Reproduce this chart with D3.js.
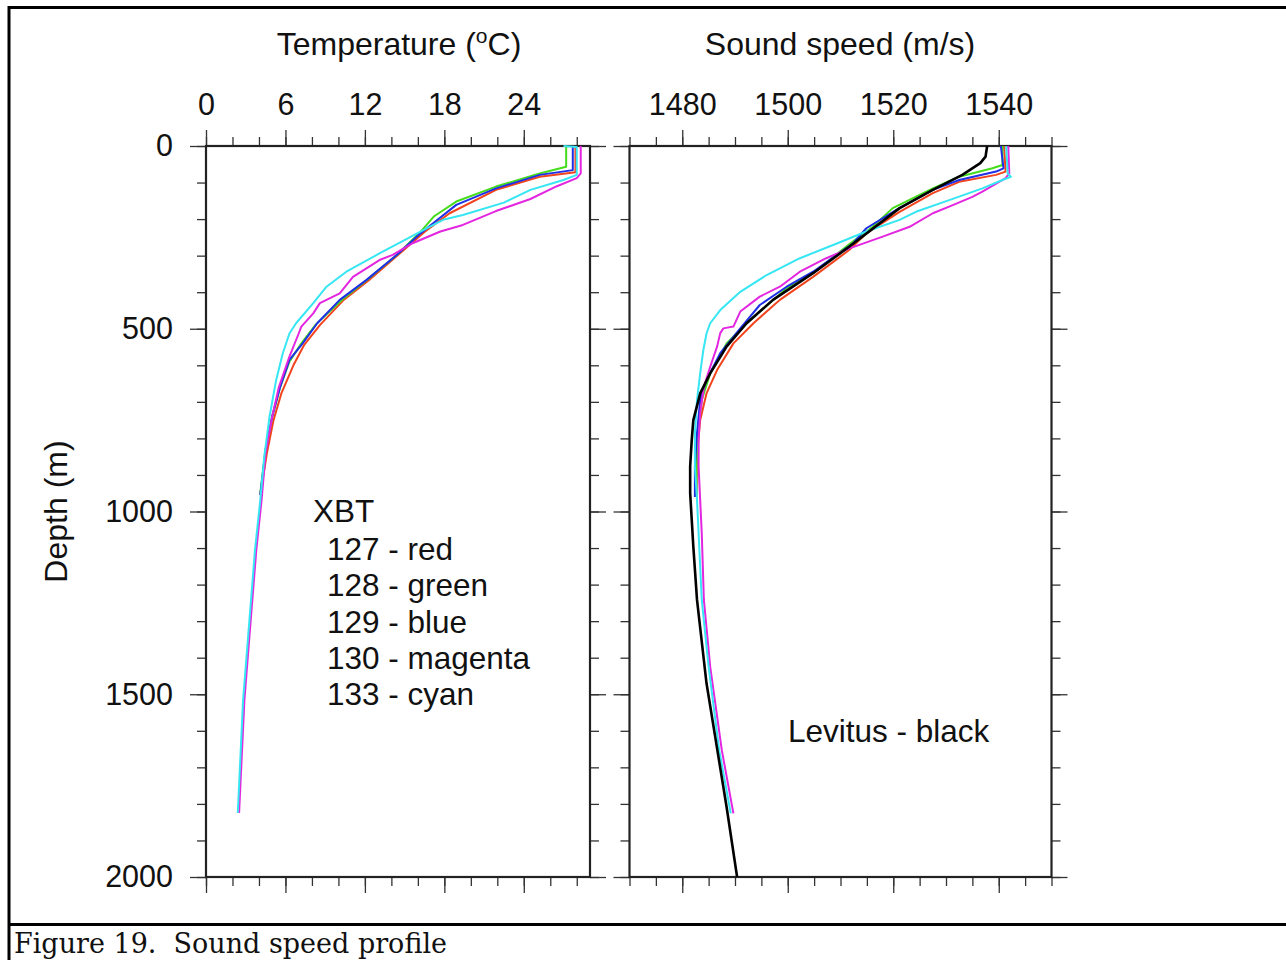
<!DOCTYPE html>
<html>
<head>
<meta charset="utf-8">
<script src="https://cdn.jsdelivr.net/npm/d3@7"></script>
<style>
  html, body { margin: 0; padding: 0; background: #fff; }
  svg { display: block; }
  .sans { font-family: "Liberation Sans", Arial, Helvetica, sans-serif; fill: #111; }
</style>
</head>
<body>
<svg id="chart" width="1286" height="960"></svg>
<script>
// ---------- DATA ----------
// Temperature profiles: [temperature °C, depth m]
const tempRed = [[27.9,0],[27.9,72],[25.2,84],[21.9,120],[18.4,184],[16.5,235],[14.5,298],[12.3,367],[10.4,421],[8.6,490],[7.4,545],[6.6,600],[5.7,676],[5.1,750],[4.6,840],[4.1,955]];
const tempGreen = [[27.2,0],[27.2,57],[25.2,75],[21.9,111],[18.9,152],[17.2,193],[16.2,235],[14.4,298],[12.2,365],[10.3,420],[8.3,488],[7.2,540],[6.3,590],[5.6,660],[5.0,740],[4.5,830],[4.1,950]];
const tempBlue = [[27.7,0],[27.7,66],[25.2,79],[21.9,116],[18.9,161],[17.2,210],[16.2,239],[14.4,298],[12.1,367],[10.1,421],[8.4,485],[7.3,540],[6.3,585],[5.6,659],[5.0,740],[4.5,832],[4.1,955]];
const tempMagenta = [[28.3,0],[28.3,75],[28.0,88],[26.5,110],[24.5,145],[21.9,178],[19.4,216],[17.7,234],[15.6,266],[14.1,298],[13.1,312],[11.1,358],[10.1,403],[8.6,430],[8.1,458],[7.2,494],[7.0,513],[6.3,576],[5.5,660],[5.0,740],[4.5,840],[4.2,968],[3.8,1105],[3.3,1333],[2.9,1516],[2.5,1825]];
const tempCyan = [[27.0,0],[28.0,3],[28.0,79],[27.0,93],[24.5,120],[22.5,155],[19.4,189],[17.9,202],[16.2,234],[13.1,294],[10.6,344],[9.1,385],[8.1,430],[6.8,485],[6.3,513],[5.8,567],[5.3,640],[4.8,740],[4.4,850],[4.1,968],[3.7,1105],[3.2,1333],[2.8,1516],[2.4,1825]];

// Sound speed profiles: [sound speed m/s, depth m]
const ssRed = [[1541.0,0],[1541.3,70],[1539.5,79],[1532.5,98],[1527.5,129],[1521.2,180],[1514.9,239],[1511.7,284],[1504.8,358],[1498.5,421],[1493.5,485],[1489.7,540],[1486.6,613],[1484.6,677],[1483.4,750],[1482.8,841],[1482.7,960]];
const ssGreen = [[1540.7,0],[1540.7,52],[1538.8,61],[1532.5,84],[1527.5,116],[1519.9,170],[1516.1,221],[1511.7,268],[1504.8,348],[1499.8,389],[1492.2,485],[1488.4,540],[1485.3,622],[1483.7,695],[1482.9,786],[1482.7,877],[1482.7,955]];
const ssBlue = [[1540.4,0],[1540.9,61],[1539.5,70],[1532.5,93],[1527.5,120],[1520.6,175],[1514.9,225],[1512.4,266],[1504.8,344],[1499.8,385],[1494.7,435],[1491.0,499],[1487.2,567],[1484.6,640],[1483.4,695],[1482.8,786],[1482.4,877],[1482.4,960]];
const ssMagenta = [[1541.8,0],[1542.0,75],[1541.3,88],[1536.9,125],[1535.0,139],[1530.6,166],[1527.5,184],[1523.1,221],[1518.0,248],[1511.7,280],[1507.3,307],[1502.3,344],[1498.5,385],[1494.7,412],[1491.0,453],[1489.7,494],[1487.8,499],[1487.2,512],[1486.6,549],[1485.3,604],[1484.1,659],[1483.4,731],[1483.1,804],[1483.1,877],[1483.4,969],[1483.7,1060],[1484.1,1242],[1485.3,1425],[1487.5,1653],[1489.7,1826]];
const ssCyan = [[1541.4,0],[1541.7,75],[1542.3,84],[1540.7,93],[1536.9,116],[1530.6,148],[1524.3,180],[1521.2,202],[1514.9,234],[1508.6,271],[1502.3,307],[1496.0,353],[1491.0,399],[1487.2,449],[1485.3,485],[1484.6,513],[1484.0,558],[1483.4,622],[1482.8,695],[1482.4,786],[1482.4,877],[1482.8,969],[1483.1,1060],[1483.7,1242],[1485.0,1425],[1487.0,1653],[1489.2,1826]];
const ssLevitus = [[1537.8,0],[1537.5,29],[1536.5,47],[1533.1,79],[1527.5,120],[1521.2,170],[1511.7,275],[1504.8,348],[1497.2,421],[1492.2,485],[1488.4,549],[1485.3,622],[1483.4,677],[1482.1,750],[1481.8,804],[1481.5,877],[1481.5,950],[1481.8,1023],[1482.1,1096],[1482.8,1242],[1484.6,1470],[1488.4,1808],[1490.4,2000]];

const seriesNames = ["red","green","blue","magenta","cyan"];
const seriesColors = ["#f2441c","#46dc1e","#1f2fe6","#e326e0","#36e6f2"];
const legendLabels = ["127 - red","128 - green","129 - blue","130 - magenta","133 - cyan"];

const tempTicks = [0,6,12,18,24];
const speedTicks = [1480,1500,1520,1540];
const depthTicks = [0,500,1000,1500,2000];

// ---------- LAYOUT ----------
const svg = d3.select("#chart");
const yTop = 146, yBot = 877;
const y = d3.scaleLinear().domain([0,2000]).range([yTop,yBot]);
const xT = d3.scaleLinear().domain([0,29]).range([206,590]);
const xC = d3.scaleLinear().domain([1470,1550]).range([629.5,1051.5]);

// outer figure border
svg.append("path").attr("d","M9,1000 V7.5 H1300").attr("fill","none").attr("stroke","#000").attr("stroke-width",3);
svg.append("line").attr("x1",9).attr("x2",1300).attr("y1",924.5).attr("y2",924.5).attr("stroke","#000").attr("stroke-width",3);

function framePanel(x, majorX, minorX, showYLabels){
  const g = svg.append("g");
  const [x0,x1] = x.range();
  const tickColor = "#333";
  function styleAxis(sel){
    sel.select(".domain").remove();
    sel.selectAll(".tick line").attr("stroke",tickColor).attr("stroke-width",1.3);
    sel.selectAll("text").attr("class","sans").style("font-size","30.5px").attr("fill","#111");
  }
  g.append("g").attr("transform",`translate(0,${yTop})`)
    .call(d3.axisTop(x).tickValues(minorX).tickSize(9).tickFormat(""))
    .call(styleAxis);
  g.append("g").attr("transform",`translate(0,${yTop})`)
    .call(d3.axisTop(x).tickValues(majorX).tickSize(16).tickPadding(15).tickFormat(d3.format("d")))
    .call(styleAxis);
  g.append("g").attr("transform",`translate(0,${yBot})`)
    .call(d3.axisBottom(x).tickValues(minorX).tickSize(9).tickFormat(""))
    .call(styleAxis);
  g.append("g").attr("transform",`translate(0,${yBot})`)
    .call(d3.axisBottom(x).tickValues(majorX).tickSize(16).tickFormat(""))
    .call(styleAxis);
  const minorY = d3.range(0,2001,100);
  g.append("g").attr("transform",`translate(${x0},0)`)
    .call(d3.axisLeft(y).tickValues(minorY).tickSize(9).tickFormat(""))
    .call(styleAxis);
  g.append("g").attr("transform",`translate(${x0},0)`)
    .call(d3.axisLeft(y).tickValues(depthTicks).tickSize(16).tickPadding(17).tickFormat(showYLabels ? d3.format("d") : ""))
    .call(styleAxis);
  g.append("g").attr("transform",`translate(${x1},0)`)
    .call(d3.axisRight(y).tickValues(minorY).tickSize(9).tickFormat(""))
    .call(styleAxis);
  g.append("g").attr("transform",`translate(${x1},0)`)
    .call(d3.axisRight(y).tickValues(depthTicks).tickSize(16).tickFormat(""))
    .call(styleAxis);
  g.append("rect").attr("x",x0).attr("y",yTop).attr("width",x1-x0).attr("height",yBot-yTop)
    .attr("fill","none").attr("stroke","#222").attr("stroke-width",2.2);
}

framePanel(xT, tempTicks, d3.range(0,29,2), true);
framePanel(xC, speedTicks, d3.range(1470,1551,5), false);

// ---------- LINES ----------
const tempSeries = [tempRed,tempGreen,tempBlue,tempMagenta,tempCyan];
const ssSeries = [ssRed,ssGreen,ssBlue,ssMagenta,ssCyan];
const lineT = d3.line().x(d=>xT(d[0])).y(d=>y(d[1]));
const lineC = d3.line().x(d=>xC(d[0])).y(d=>y(d[1]));

tempSeries.forEach((s,i)=>{
  svg.append("path").datum(s).attr("d",lineT).attr("fill","none")
    .attr("stroke",seriesColors[i]).attr("stroke-width",2).attr("stroke-linejoin","round");
});
ssSeries.forEach((s,i)=>{
  svg.append("path").datum(s).attr("d",lineC).attr("fill","none")
    .attr("stroke",seriesColors[i]).attr("stroke-width",2).attr("stroke-linejoin","round");
});
svg.append("path").datum(ssLevitus).attr("d",lineC).attr("fill","none")
  .attr("stroke","#000").attr("stroke-width",2.6).attr("stroke-linejoin","round");

// ---------- TEXT ----------
const t1 = svg.append("text").attr("class","sans").attr("x",399).attr("y",55)
  .attr("text-anchor","middle").style("font-size","32px");
t1.append("tspan").text("Temperature (");
t1.append("tspan").text("o").style("font-size","21px").attr("dy",-12);
t1.append("tspan").text("C)").attr("dy",12);

svg.append("text").attr("class","sans").attr("x",840).attr("y",55)
  .attr("text-anchor","middle").style("font-size","32px").text("Sound speed (m/s)");

svg.append("text").attr("class","sans").attr("transform",`translate(67,${y(1000)}) rotate(-90)`)
  .attr("text-anchor","middle").style("font-size","32px").text("Depth (m)");

svg.append("text").attr("class","sans").attr("x",313).attr("y",522)
  .style("font-size","31.5px").text("XBT");
legendLabels.forEach((lab,i)=>{
  svg.append("text").attr("class","sans").attr("x",327).attr("y",560+i*36.3)
    .style("font-size","31.5px").text(lab);
});
svg.append("text").attr("class","sans").attr("x",788).attr("y",742)
  .style("font-size","31.5px").text("Levitus - black");

svg.append("text").attr("x",14).attr("y",953)
  .style("font-family",'"DejaVu Serif", "Liberation Serif", serif').style("font-size","27px")
  .style("white-space","pre").attr("fill","#111")
  .attr("textLength",433).attr("lengthAdjust","spacingAndGlyphs")
  .text("Figure 19.  Sound speed profile");
</script>
</body>
</html>
